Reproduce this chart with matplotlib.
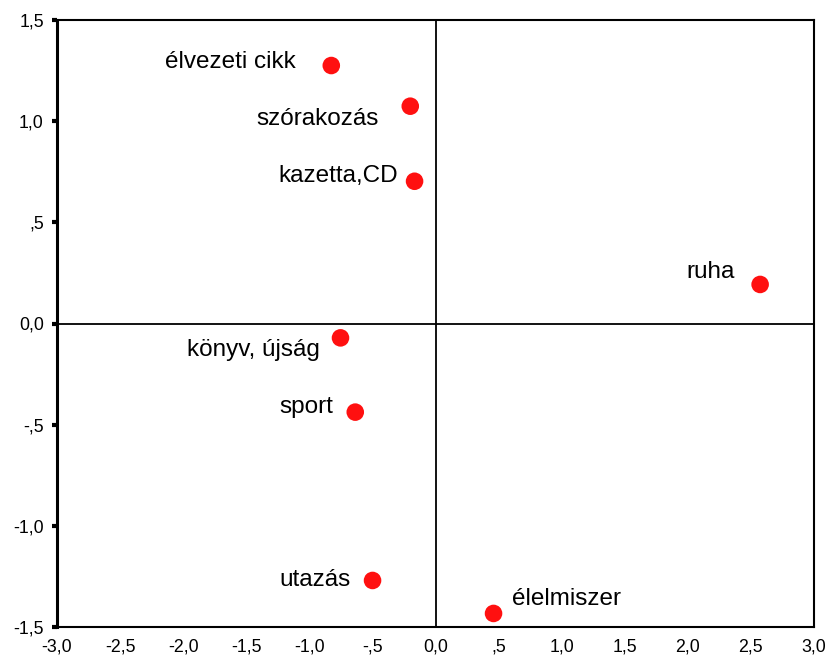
import matplotlib
matplotlib.use("Agg")
import matplotlib.pyplot as plt
from matplotlib.ticker import FuncFormatter, MultipleLocator

labels = ["élvezeti cikk", "szórakozás", "kazetta,CD", "ruha",
          "könyv, újság", "sport", "utazás", "élelmiszer"]
x_vals = [-0.826, -0.200, -0.166, 2.573, -0.753, -0.636, -0.499, 0.460]
y_vals = [1.275, 1.074, 0.703, 0.193, -0.071, -0.438, -1.270, -1.433]

# label offsets in pixels (dx, dy) and alignment
offsets = [(-36, 4, "right"), (-32, -13, "right"), (-17, 5, "right"),
           (-25, 12, "right"), (-21, -12, "right"), (-22, 5, "right"),
           (-22, 0, "right"), (18, 14, "left")]

plt.rcParams["font.family"] = ["Liberation Sans", "DejaVu Sans"]

fig = plt.figure(figsize=(8.26, 6.57), dpi=100)
ax = fig.add_axes([57/826, 30/657, (814-57)/826, (627-20)/657])

ax.set_xlim(-3, 3)
ax.set_ylim(-1.5, 1.5)

ax.axhline(0, color="black", lw=1.3, zorder=1)
ax.axvline(0, color="black", lw=1.3, zorder=1)

ax.scatter(x_vals, y_vals, s=160, color="#ff1010", edgecolors="none", zorder=3)

px = 72 / 100
for lab, xv, yv, (dx, dy, ha) in zip(labels, x_vals, y_vals, offsets):
    ax.annotate(lab, (xv, yv), xytext=(dx * px, dy * px), textcoords="offset points",
                ha=ha, va="center", fontsize=17.5, color="black")

def fmt(v, pos):
    s = f"{v:.1f}".replace(".", ",")
    if s.startswith("0,") and abs(v) > 1e-9:
        s = s[1:]
    elif s.startswith("-0,"):
        s = "-" + s[2:]
    if s == "-0,0":
        s = "0,0"
    return s

ax.xaxis.set_major_locator(MultipleLocator(0.5))
ax.yaxis.set_major_locator(MultipleLocator(0.5))
ax.xaxis.set_major_formatter(FuncFormatter(fmt))
ax.yaxis.set_major_formatter(FuncFormatter(fmt))

ax.tick_params(axis="y", direction="out", length=3.5, width=3, pad=6, labelsize=12.8)
ax.tick_params(axis="x", length=0, pad=8, labelsize=12.8)

for side in ["top", "right", "bottom"]:
    ax.spines[side].set_linewidth(1.5)
ax.spines["left"].set_linewidth(2.2)

fig.savefig("out.png", dpi=100)
